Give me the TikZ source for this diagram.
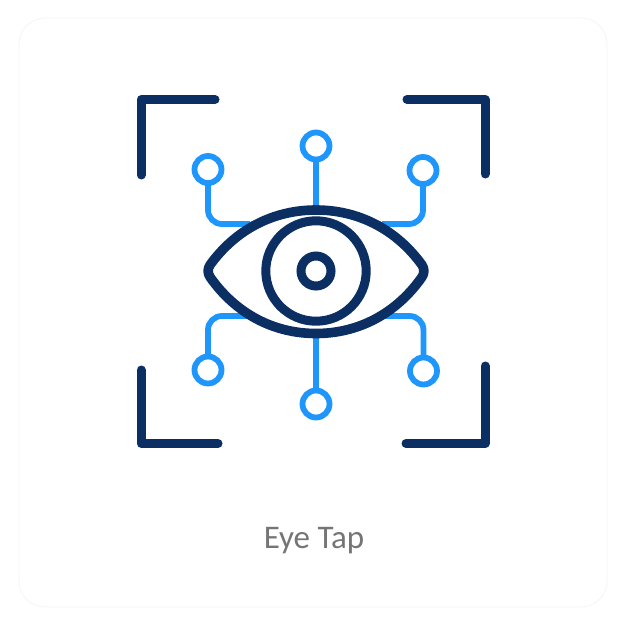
\documentclass[tikz,border=0pt]{standalone}
\usepackage{fontspec}
\setmainfont{Carlito}
\definecolor{navy}{HTML}{0B2F63}
\definecolor{sky}{HTML}{1E96FC}
\tikzset{
  bracket/.style={draw=navy,line width=9pt,line cap=round,line join=round},
  eyeline/.style={draw=navy,line width=9.6pt,line join=round},
  wire/.style={draw=sky,line width=5.8pt,rounded corners=14pt},
  port/.style={circle,draw=sky,line width=5.8pt,fill=white,minimum size=27pt,inner sep=0pt,outer sep=0pt},
  ring/.style={circle,draw=navy,line width=9pt,inner sep=0pt,outer sep=0pt},
}
\begin{document}
\begin{tikzpicture}[x=1pt,y=-1pt]
\useasboundingbox (0,0) rectangle (626,626);
\fill[white] (0,0) rectangle (626,626);
\draw[draw=black!4,line width=0.8pt,fill=white,rounded corners=26pt] (19,18) rectangle (607,607);
% connectors
\coordinate (jtl) at (250,224);
\coordinate (jtr) at (382,224);
\coordinate (jbl) at (250,316);
\coordinate (jbr) at (382,316);
\coordinate (jt) at (316,212);
\coordinate (jb) at (316,332);
\node[port] (tl) at (208,169.5) {};
\node[port] (t) at (316,146) {};
\node[port] (tr) at (423,170.5) {};
\node[port] (bl) at (208,370) {};
\node[port] (b) at (316,404) {};
\node[port] (br) at (423.5,371) {};
\draw[wire] (tl.south) |- (jtl);
\draw[wire] (tr.south) |- (jtr);
\draw[wire] (bl.north) |- (jbl);
\draw[wire] (br.north) |- (jbr);
\draw[wire] (t.south) -- (jt);
\draw[wire] (b.north) -- (jb);
% eye
\draw[eyeline,fill=white] (210,265)
  .. controls (236,229) and (274,210) .. (316,210)
  .. controls (358,210) and (396,229) .. (422,265)
  .. controls (424.5,268.5) and (424.5,273.5) .. (422,277)
  .. controls (396,314) and (358,333.5) .. (316,333.5)
  .. controls (274,333.5) and (236,314) .. (210,277)
  .. controls (207.5,273.5) and (207.5,268.5) .. (210,265) -- cycle;
\node[ring,minimum size=100.4pt] (iris) at (316,271) {};
\node[ring,minimum size=30pt] (pupil) at (316,271) {};
% brackets
\draw[bracket] (141,175) -- (141,99.5) -- (215,99.5);
\draw[bracket] (407,99.5) -- (485,99.5) -- (485,174);
\draw[bracket] (141,370) -- (141,443.5) -- (218,443.5);
\draw[bracket] (406,443.5) -- (485,443.5) -- (485,366);
\node[text=black!54,font=\fontsize{33}{38}\selectfont,inner sep=0pt,anchor=base] (label) at (314,548.3) {Eye Tap};
\end{tikzpicture}
\end{document}
